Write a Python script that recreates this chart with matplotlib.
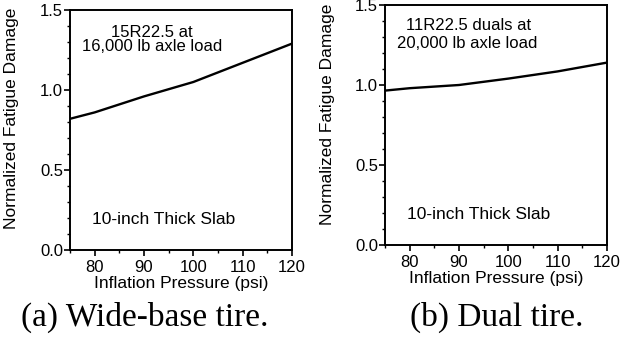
import numpy as np
import matplotlib.pyplot as plt
from matplotlib.ticker import MultipleLocator

pressure = [75, 80, 90, 100, 110, 120]
damage_wide = [0.82, 0.86, 0.96, 1.05, 1.17, 1.29]
damage_dual = [0.965, 0.98, 1.00, 1.04, 1.085, 1.14]

labels_wide = ["15R22.5 at", "16,000 lb axle load"]
labels_dual = ["11R22.5 duals at", "20,000 lb axle load"]
slab = "10-inch Thick Slab"
captions = ["(a) Wide-base tire.", "(b) Dual tire."]

plt.rcParams['font.family'] = ['Liberation Sans', 'DejaVu Sans']

W, H = 627, 339
fig = plt.figure(figsize=(W / 100, H / 100), dpi=100)

def make_axes(l, r, t, b):
    return fig.add_axes([l / W, 1 - b / H, (r - l) / W, (b - t) / H])

ax1 = make_axes(70, 292, 10, 250)
ax2 = make_axes(385, 607, 5, 245)

def style(ax):
    ax.set_xlim(75, 120)
    ax.set_ylim(0, 1.5)
    ax.xaxis.set_minor_locator(MultipleLocator(5))
    ax.yaxis.set_major_locator(MultipleLocator(0.5))
    ax.yaxis.set_minor_locator(MultipleLocator(0.1))
    ax.set_xticks([80, 90, 100, 110, 120])
    ax.yaxis.set_major_formatter(plt.FormatStrFormatter('%.1f'))
    ax.tick_params(which='major', length=4, width=1.2, labelsize=12, pad=1)
    ax.tick_params(axis='x', which='major', pad=3)
    ax.tick_params(which='minor', length=2.5, width=1.0)
    for s in ax.spines.values():
        s.set_linewidth(1.4)
    ax.set_xlabel("Inflation Pressure (psi)", fontsize=12.5, labelpad=1)
    ax.set_ylabel("Normalized Fatigue Damage", fontsize=12.5)

for ax, d in [(ax1, damage_wide), (ax2, damage_dual)]:
    ax.plot(pressure, d, color='black', lw=1.7)
    style(ax)

ax1.yaxis.set_label_coords(-0.23, 0.55)
ax2.yaxis.set_label_coords(-0.225, 0.546)

ax1.text(91.6, 1.36, labels_wide[0], ha='center', va='center', fontsize=12)
ax1.text(91.6, 1.27, labels_wide[1], ha='center', va='center', fontsize=12)
ax1.text(94, 0.19, slab, ha='center', va='center', fontsize=12.5)

ax2.text(92, 1.37, labels_dual[0], ha='center', va='center', fontsize=12)
ax2.text(91.6, 1.26, labels_dual[1], ha='center', va='center', fontsize=12)
ax2.text(94, 0.19, slab, ha='center', va='center', fontsize=12.5)

fig.text(145 / W, 1 - 317 / H, captions[0], ha='center', va='center',
         fontsize=24, family='Liberation Serif')
fig.text(497 / W, 1 - 317 / H, captions[1], ha='center', va='center',
         fontsize=24, family='Liberation Serif')

fig.savefig("out.png", dpi=100)
